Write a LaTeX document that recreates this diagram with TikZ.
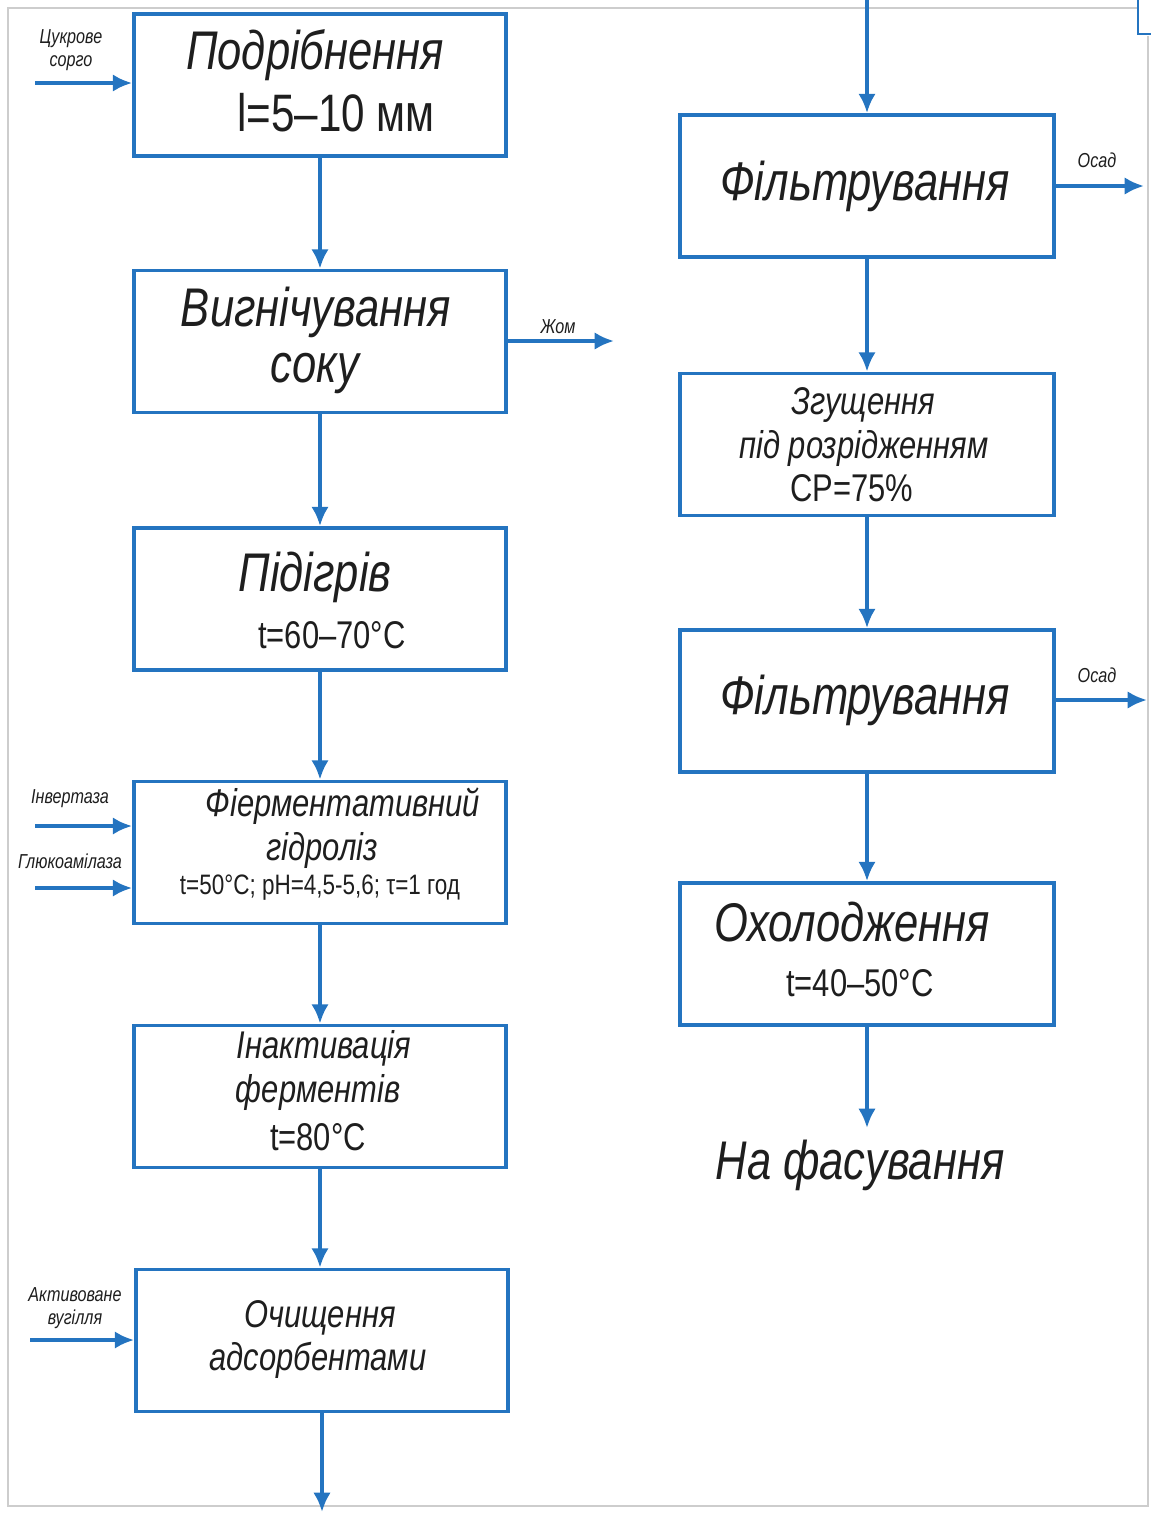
\documentclass[tikz,border=0pt]{standalone}
\usepackage{fontspec}
\setmainfont{Liberation Sans}
\newfontfamily\gf{Liberation Sans}[FakeStretch=0.8]
\usetikzlibrary{arrows.meta}
\definecolor{lineblue}{RGB}{36,116,192}
\definecolor{txt}{RGB}{30,30,30}
\definecolor{frame}{RGB}{205,205,205}
\begin{document}
\begin{tikzpicture}[x=0.02cm,y=-0.02cm,
  box/.style={draw=lineblue,line width=2.2pt,minimum width=7.44cm,minimum height=2.84cm,inner sep=0pt},
  arr/.style={draw=lineblue,line width=2.2pt,-{Latex[length=11pt,width=10pt]}},
  big/.style={text=txt,font=\gf\itshape\fontsize{31}{34}\selectfont,inner sep=0pt},
  bigup/.style={text=txt,font=\gf\fontsize{30}{34}\selectfont,inner sep=0pt},
  mid/.style={text=txt,font=\gf\itshape\fontsize{22}{25}\selectfont,inner sep=0pt},
  midup/.style={text=txt,font=\gf\fontsize{22}{25}\selectfont,inner sep=0pt},
  small/.style={text=txt,font=\gf\fontsize{16}{18}\selectfont,inner sep=0pt},
  tiny/.style={text=txt,font=\gf\itshape\fontsize{11.5}{13}\selectfont,inner sep=0pt,align=center}]
\useasboundingbox (0,0) rectangle (1150,1515);
% frame
\draw[frame,line width=0.8pt] (1137,8) -- (8,8) -- (8,1506) -- (1148,1506) -- (1148,36);
\draw[lineblue,line width=1pt,fill=white] (1138,-2) rectangle (1152,34);
% left column boxes
\node[box] (b1) at (320,85) {};
\node[box] (b2) at (320,341.5) {};
\node[box] (b3) at (320,599) {};
\node[box] (b4) at (320,852.5) {};
\node[box] (b5) at (320,1096.5) {};
\node[box] (b6) at (322,1340.5) {};
% right column boxes
\node[box,minimum width=7.48cm] (r1) at (867,186) {};
\node[box,minimum width=7.48cm] (r2) at (867,444.5) {};
\node[box,minimum width=7.48cm] (r3) at (867,701) {};
\node[box,minimum width=7.48cm] (r4) at (867,954) {};
% texts
\node[big] (t1a) at (315,55) {Подрібнення};
\node[bigup] (t1b) at (336,113) {l=5–10 мм};
\node[big] (t2a) at (316,312) {Вигнічування};
\node[big] (t2b) at (315,373) {соку};
\node[big] (t3a) at (315,577) {Підігрів};
\node[midup] (t3b) at (332,635) {t=60–70°C};
\node[mid] (t4a) at (343,806) {Фіерментативний};
\node[mid] (t4b) at (322,850) {гідроліз};
\node[small] (t4c) at (320,888) {t=50°C; pH=4,5-5,6; τ=1 год};
\node[mid] (t5a) at (324,1048) {Інактивація};
\node[mid] (t5b) at (318,1092) {ферментів};
\node[midup] (t5c) at (318,1137) {t=80°C};
\node[mid] (t6a) at (320,1318) {Очищення};
\node[mid] (t6b) at (318,1360) {адсорбентами};
\node[big] (u1) at (865,186) {Фільтрування};
\node[mid] (u2a) at (863,405) {Згущення};
\node[mid] (u2b) at (864,448) {під розрідженням};
\node[midup] (u2c) at (852,488) {СР=75\%};
\node[big] (u3) at (865,700) {Фільтрування};
\node[big] (u4a) at (852,922) {Охолодження};
\node[midup] (u4b) at (860,983) {t=40–50°C};
\node[big] (fin) at (860,1165) {На фасування};
% main flow
\draw[arr] (b1.south) -- (b2.north);
\draw[arr] (b2.south) -- (b3.north);
\draw[arr] (b3.south) -- (b4.north);
\draw[arr] (b4.south) -- (b5.north);
\draw[arr] (b5.south) -- (b5.south |- b6.north);
\coordinate (outL) at (322,1512);
\draw[arr] (b6.south) -- (outL);
\coordinate (inR) at (867,0);
\draw[arr] (inR) -- (r1.north);
\draw[arr] (r1.south) -- (r2.north);
\draw[arr] (r2.south) -- (r3.north);
\draw[arr] (r3.south) -- (r4.north);
\coordinate (endR) at (867,1128);
\draw[arr] (r4.south) -- (endR);
% side inputs / outputs
\coordinate (i1) at (35,83);
\draw[arr] (i1) -- (i1 -| b1.west);
\node[tiny] (l1) at (71,50) {Цукрове\\сорго};
\coordinate (o1) at (614,341);
\draw[arr] (o1 -| b2.east) -- (o1);
\node[tiny] (l2) at (558,327) {Жом};
\coordinate (i2) at (35,826);
\draw[arr] (i2) -- (i2 -| b4.west);
\node[tiny] (l3) at (70,799) {Інвертаза};
\coordinate (i3) at (35,888);
\draw[arr] (i3) -- (i3 -| b4.west);
\node[tiny] (l4) at (70,861) {Глюкоамілаза};
\coordinate (i4) at (30,1340);
\draw[arr] (i4) -- (i4 -| b6.west);
\node[tiny] (l5) at (75,1308) {Активоване\\вугілля};
\coordinate (o2) at (1144,186);
\draw[arr] (o2 -| r1.east) -- (o2);
\node[tiny] (l6) at (1097,160) {Осад};
\coordinate (o3) at (1147,700);
\draw[arr] (o3 -| r3.east) -- (o3);
\node[tiny] (l7) at (1097,675) {Осад};
\end{tikzpicture}
\end{document}
